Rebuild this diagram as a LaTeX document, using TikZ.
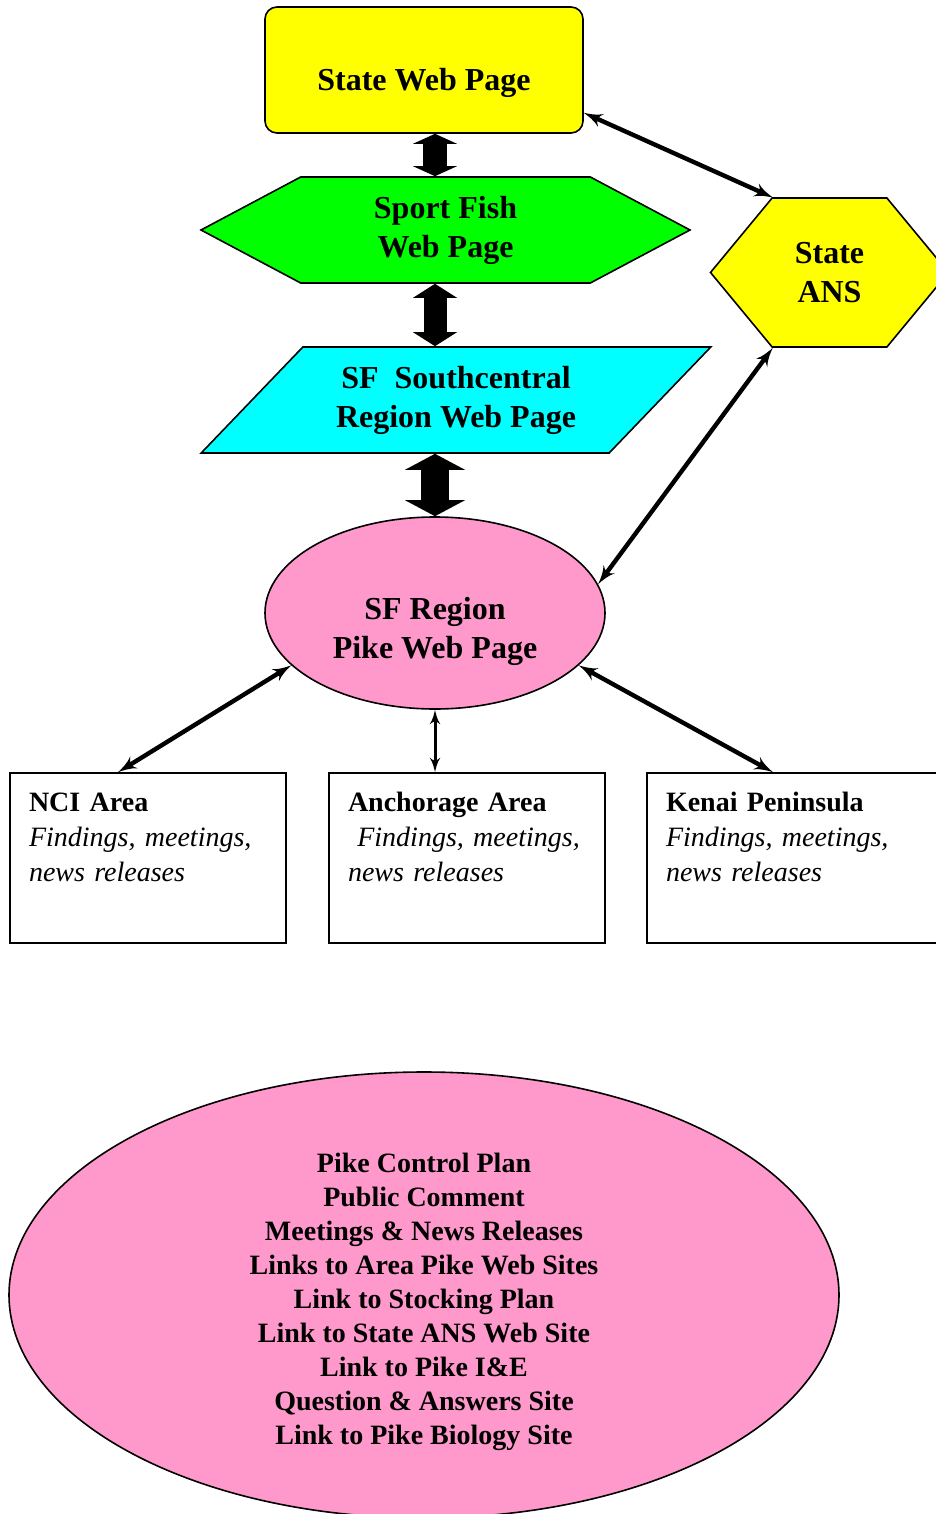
\documentclass[tikz,border=0pt]{standalone}
\usepackage{fontspec}
\setmainfont{Liberation Serif}
\usetikzlibrary{arrows}
\usetikzlibrary{arrows.meta}
\usetikzlibrary{calc}
\usetikzlibrary{shapes}
\definecolor{webyellow}{HTML}{FFFF00}
\definecolor{fishgreen}{HTML}{00FF00}
\definecolor{sfcyan}{HTML}{00FFFF}
\definecolor{pikepink}{HTML}{FF99CC}

\begin{document}
\begin{tikzpicture}[x=0.5pt,y=-0.5pt]
  \tikzset{title/.style={draw, line width=0.8pt, align=center, inner sep=0pt,
      font=\fontsize{16pt}{19.5pt}\selectfont\bfseries}}
  \tikzset{area/.style={draw, line width=0.8pt, align=left, inner sep=9.5pt,
      text height=9.5pt, text depth=56.5pt, font=\fontsize{14pt}{17.5pt}\selectfont}}
  \tikzset{line/.style={draw, <->, >=latex', line width=2.2pt}}
  \tikzset{line2/.style={draw, <->, >=latex', line width=1.5pt}}
  \tikzset{fat/.style n args={3}{draw, <->, line width=#1,
      >={Triangle[width=#2,length=#3,line width=0pt]}}}

  \useasboundingbox (0,0) rectangle (936,1514);

  \node[title, rectangle, rounded corners=6pt, fill=webyellow, minimum width=159pt,
    minimum height=63pt, text height=24pt, text depth=3.5pt] (web) at (424,70) {State Web Page};
  \node[title, signal, signal to=west and east, signal pointer angle=56, fill=fishgreen,
    minimum width=244.5pt, minimum height=53pt] (sport) at (445.5,230) {Sport Fish\\Web Page};
  \node[title, trapezium, trapezium left angle=40.6, trapezium right angle=139.4,
    trapezium stretches=true, fill=sfcyan, minimum width=255pt,
    minimum height=53pt] (sfsc) at (456,400) {SF~ Southcentral\\Region Web Page};
  \node[title, ellipse, fill=pikepink, minimum width=170pt, minimum height=96pt,
    text height=48.5pt, text depth=3.5pt] (pike) at (435,613) {SF Region\\Pike Web Page};
  \node[title, signal, signal to=west and east, signal pointer angle=100.8, fill=webyellow,
    minimum width=119pt, minimum height=74.5pt] (ans) at (829.5,272.5) {State\\ANS};

  \node[area, text width=119pt] (nci) at (148,858)
    {\textbf{NCI Area}\\\textit{Findings, meetings,}\\\textit{news releases}};
  \node[area, text width=119pt] (anc) at (467,858)
    {\textbf{Anchorage Area}\\\textit{~Findings, meetings,}\\\textit{news releases}};
  \node[area, text width=131pt] (kenai) at (797,858)
    {\textbf{Kenai Peninsula}\\\textit{Findings, meetings,}\\\textit{news releases}};

  \node[title, ellipse, fill=pikepink, minimum width=415pt, minimum height=223pt,
    text height=152.5pt, text depth=3.5pt, font=\fontsize{14pt}{17pt}\selectfont\bfseries]
    (plan) at (424,1295)
    {Pike Control Plan\\Public Comment\\Meetings \& News Releases\\Links to Area Pike Web Sites\\
     Link to Stocking Plan\\Link to State ANS Web Site\\Link to Pike I\&E\\
     Question \& Answers Site\\Link to Pike Biology Site};

  \path (web.south -| pike.north) edge[fat={12pt}{22pt}{5pt}] (sport.north -| pike.north);
  \path (sport.south -| pike.north) edge[fat={11.5pt}{22pt}{7pt}] (sfsc.north -| pike.north);
  \path (sfsc.south -| pike.north) edge[fat={14pt}{30pt}{8pt}] (pike.north);

  \path (web.-15) edge[line] (ans.127);
  \path (ans.-127) edge[line] (pike.10);
  \path (pike.200) edge[line] ($(nci.north)+(-30,0)$);
  \path (pike.south) edge[line2] (pike.south |- anc.north);
  \path (pike.-20) edge[line] ($(kenai.north)+(-24,0)$);
\end{tikzpicture}
\end{document}
